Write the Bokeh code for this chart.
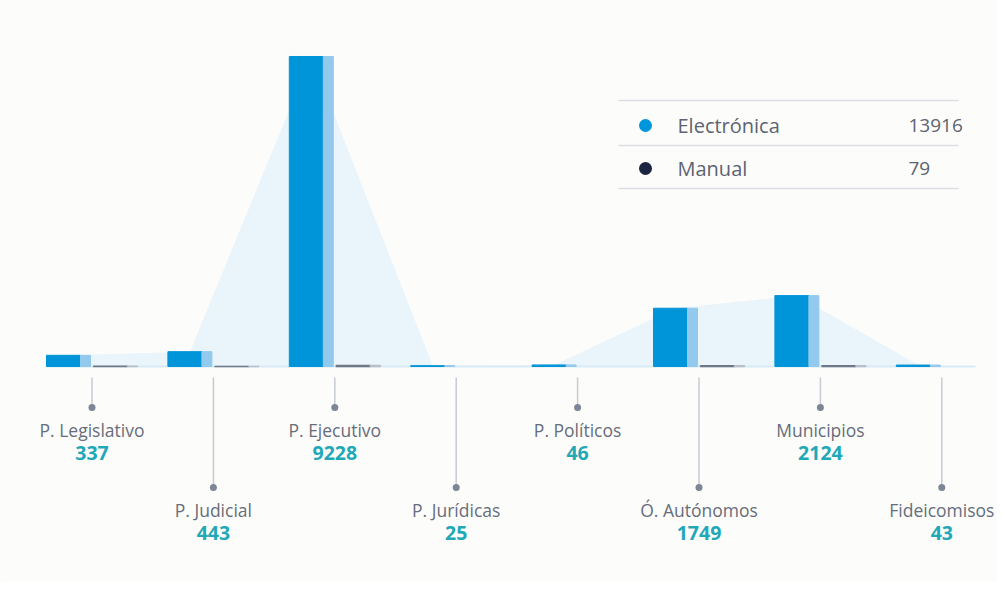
from bokeh.plotting import figure
from bokeh.models import Range1d
from bokeh.core.properties import value
from bokeh.embed import file_html
from bokeh.resources import INLINE

# ---- data ----
categories = ["P. Legislativo", "P. Judicial", "P. Ejecutivo", "P. Jurídicas",
              "P. Políticos", "Ó. Autónomos", "Municipios", "Fideicomisos"]
electronica = [332, 440, 9198, 25, 46, 1729, 2103, 43]
manual = [5, 3, 30, 0, 0, 20, 21, 0]
series_names = ["Electrónica", "Manual"]

totals = [e + m for e, m in zip(electronica, manual)]
series_totals = [sum(electronica), sum(manual)]

# ---- geometry (screen pixels of the reference -> data units) ----
W, H = 997, 582
SP = 121.4            # px per category
X0 = 91.5             # screen x of first category centre
BASE = 366            # screen y of baseline
K = 29.67             # value units per px
FONT = "Open Sans"

def px(sx):
    return (sx - X0) / SP

def py(sy):
    return (BASE - sy) * K

p = figure(width=W, height=H, output_backend="svg", toolbar_location=None,
           x_range=Range1d(px(0), px(W)), y_range=Range1d(py(H), py(0)),
           min_border=0, background_fill_color="#FCFCFA", border_fill_color="#FCFCFA")
p.axis.visible = False
p.grid.visible = False
p.outline_line_color = None

n = len(categories)
xs = list(range(n))
BW = 44 / SP          # bar width
LW = 10 / SP          # light edge width
GAP = 1.5 / SP

# area connecting centres of electronic bars
ecx = [x - GAP - BW / 2 for x in xs]
p.varea(x=ecx, y1=[0] * n, y2=electronica, fill_color="#EAF4FB", fill_alpha=1.0)

# baseline
p.segment(x0=[px(46)], y0=[0], x1=[px(975)], y1=[0], line_color="#D8EAF6", line_width=2)

# electronic bars
el = [x - GAP - BW for x in xs]
er = [x - GAP for x in xs]
emid = [r - LW for r in er]
p.quad(left=el, right=emid, bottom=[0] * n, top=electronica,
       fill_color="#0094D8", line_color="#0094D8", line_width=1)
p.quad(left=emid, right=er, bottom=[0] * n, top=electronica,
       fill_color="#94C9EE", line_color="#94C9EE", line_width=1)

# manual bars (only where present)
mi = [i for i in xs if manual[i] > 0]
ml = [xs[i] + GAP for i in mi]
mr = [xs[i] + GAP + BW for i in mi]
mmid = [r - LW for r in mr]
mv = [manual[i] for i in mi]
p.quad(left=ml, right=mmid, bottom=[0] * len(mi), top=mv,
       fill_color="#6F7788", line_color="#6F7788", line_width=1.5)
p.quad(left=mmid, right=mr, bottom=[0] * len(mi), top=mv,
       fill_color="#B9BEC8", line_color="#B9BEC8", line_width=1.5)

# connectors and labels
short = [i % 2 == 0 for i in xs]
dot_y = [py(407) if s else py(487) for s in short]
name_y = [py(429) if s else py(509) for s in short]
val_y = [py(452) if s else py(532) for s in short]
p.segment(x0=xs, y0=[py(377)] * n, x1=xs, y1=dot_y, line_color="#C7CBD3", line_width=1.5)
p.scatter(x=xs, y=dot_y, size=7, fill_color="#7D8696", line_color=None)
p.text(x=xs, y=name_y, text=categories, text_align="center", text_baseline="middle",
       text_font=value(FONT), text_font_size="17.5px", text_color="#666D7B")
p.text(x=xs, y=val_y, text=[str(t) for t in totals], text_align="center", text_baseline="middle",
       text_font=value(FONT), text_font_size="19.5px", text_font_style="bold", text_color="#1FA8B8")

# legend table
p.segment(x0=[px(618)] * 3, y0=[py(100), py(145), py(188)], x1=[px(958)] * 3,
          y1=[py(100), py(145), py(188)], line_color="#DCDEE2", line_width=1.5)
ly = [py(125), py(168)]
p.scatter(x=[px(645)] * 2, y=ly, size=13, fill_color=["#0096DB", "#1B2441"], line_color=None)
p.text(x=[px(677)] * 2, y=ly, text=series_names, text_align="left", text_baseline="middle",
       text_font=value(FONT), text_font_size="20px", text_color="#5C6371")
p.text(x=[px(908)] * 2, y=ly, text=[str(v) for v in series_totals], text_align="left",
       text_baseline="middle", text_font=value(FONT), text_font_size="19px", text_color="#5C6371")

open("out.html", "w").write(file_html(p, INLINE))
